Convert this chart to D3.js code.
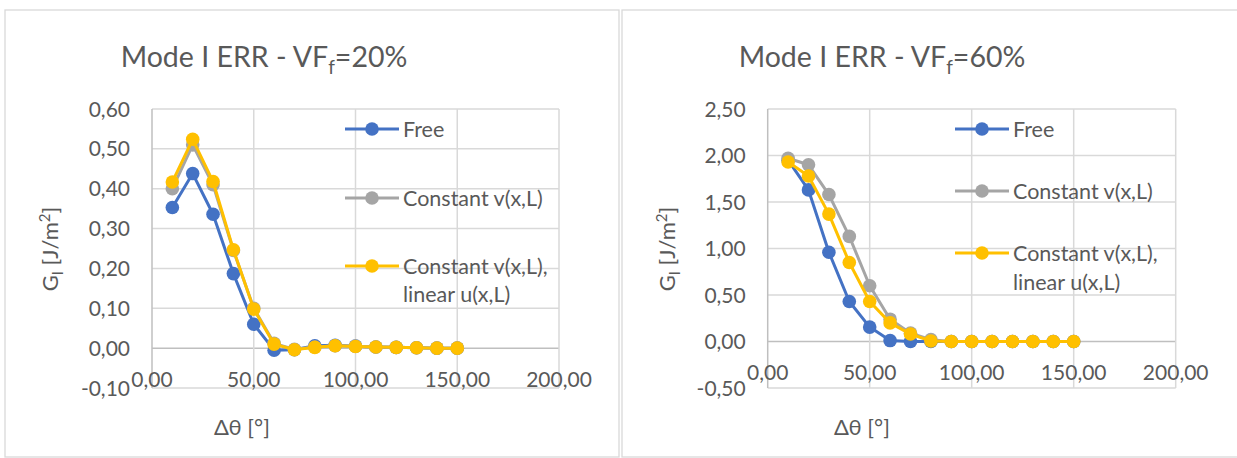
<!DOCTYPE html>
<html><head><meta charset="utf-8">
<script src="https://cdn.jsdelivr.net/npm/d3@7"></script>
<style>
html,body{margin:0;padding:0;background:#fff;}
text{font-family:Lato, "Open Sans", sans-serif; fill:#595959;}
</style></head>
<body><svg id="c" width="1237" height="458"></svg>
<script>
const xs = [10,20,30,40,50,60,70,80,90,100,110,120,130,140,150];
const seriesNames = ["Free","Constant v(x,L)","Constant v(x,L), linear u(x,L)"];
const seriesColors = ["#4472C4","#A5A5A5","#FFC000"];
// VF_f = 20%
const free20  = [0.353,0.438,0.336,0.187,0.060,-0.005,-0.004,0.006,0.007,0.005,0.003,0.002,0.001,0.000,0.000];
const cv20    = [0.400,0.510,0.410,0.245,0.100,0.012,-0.003,0.003,0.006,0.005,0.003,0.002,0.001,0.000,0.000];
const cvlu20  = [0.417,0.524,0.418,0.247,0.098,0.010,-0.004,0.002,0.006,0.004,0.003,0.002,0.001,0.000,0.000];
// VF_f = 60%
const free60  = [1.95,1.63,0.96,0.43,0.155,0.010,0.000,0.000,0.000,0.000,0.000,0.000,0.000,0.000,0.000];
const cv60    = [1.97,1.90,1.58,1.13,0.600,0.240,0.090,0.020,0.000,0.000,0.000,0.000,0.000,0.000,0.000];
const cvlu60  = [1.93,1.78,1.37,0.85,0.430,0.200,0.080,0.005,0.000,0.000,0.000,0.000,0.000,0.000,0.000];
const xTicks = [0,50,100,150,200];
const yTicks20 = [-0.1,0,0.1,0.2,0.3,0.4,0.5,0.6];
const yTicks60 = [-0.5,0,0.5,1.0,1.5,2.0,2.5];

const svg = d3.select("#c");
const fmt = v => d3.format(".2f")(v).replace(".",",").replace("−","-");

function chart(cfg){
  const g = svg.append("g");
  g.append("rect").attr("x",cfg.fx).attr("y",10).attr("width",cfg.fw).attr("height",447)
    .attr("fill","#fff").attr("stroke","#d9d9d9").attr("stroke-width",1.3);
  const x = d3.scaleLinear().domain([0,200]).range([cfg.px0,cfg.px1]);
  const y = d3.scaleLinear().domain(d3.extent(cfg.yTicks)).range([388,109]);
  g.selectAll(".hg").data(cfg.yTicks).join("line")
    .attr("x1",cfg.px0).attr("x2",cfg.px1).attr("y1",d=>y(d)).attr("y2",d=>y(d))
    .attr("stroke",d=>d===0?"#bfbfbf":"#d9d9d9").attr("stroke-width",1.5);
  g.selectAll(".vg").data(xTicks).join("line")
    .attr("x1",d=>x(d)).attr("x2",d=>x(d)).attr("y1",y.range()[1]).attr("y2",y.range()[0])
    .attr("stroke",d=>d===0?"#bfbfbf":"#d9d9d9").attr("stroke-width",1.5);
  g.selectAll(".yl").data(cfg.yTicks).join("text")
    .attr("x",cfg.px0-22).attr("y",d=>y(d)).attr("dy","0.36em").attr("text-anchor","end")
    .style("font-size","21px").text(d=>fmt(d));
  g.selectAll(".xl").data(xTicks).join("text")
    .attr("x",d=>x(d)).attr("y",y(0)+38.5).attr("text-anchor","middle")
    .style("font-size","21px").text(d=>fmt(d));
  const line = d3.line().x((d,i)=>x(xs[i])).y(d=>y(d));
  cfg.series.forEach((s,k)=>{
    g.append("path").attr("d",line(s)).attr("fill","none")
      .attr("stroke",seriesColors[k]).attr("stroke-width",3).attr("stroke-linejoin","round");
    g.selectAll(".m"+k).data(s).join("circle")
      .attr("cx",(d,i)=>x(xs[i])).attr("cy",d=>y(d)).attr("r",6.8)
      .attr("fill",seriesColors[k]);
  });
  const t = g.append("text").attr("x",cfg.tx).attr("y",67).attr("text-anchor","middle")
    .style("font-size","28.5px");
  t.append("tspan").text("Mode I ERR - VF");
  t.append("tspan").text("f").style("font-size","19px").attr("dy",7);
  t.append("tspan").text(cfg.pct).attr("dy",-7);
  g.append("text").attr("x",cfg.axtx).attr("y",435).attr("text-anchor","middle")
    .style("font-size","22px").text("Δθ [°]");
  const yt = g.append("text").attr("transform",`translate(${cfg.aytx},249) rotate(-90)`)
    .attr("text-anchor","middle").style("font-size","22px");
  yt.append("tspan").text("G");
  yt.append("tspan").text("I").style("font-size","15px").attr("dy",5);
  yt.append("tspan").text(" [J/m").attr("dy",-5);
  yt.append("tspan").text("2").style("font-size","15px").attr("dy",-8);
  yt.append("tspan").text("]").attr("dy",8);
  cfg.legY.forEach((ly,k)=>{
    g.append("line").attr("x1",cfg.lx).attr("x2",cfg.lx+54).attr("y1",ly).attr("y2",ly)
      .attr("stroke",seriesColors[k]).attr("stroke-width",3);
    g.append("circle").attr("cx",cfg.lx+27).attr("cy",ly).attr("r",6.8).attr("fill",seriesColors[k]);
  });
  const lt = [[seriesNames[0]],[seriesNames[1]],["Constant v(x,L),","linear u(x,L)"]];
  lt.forEach((lines,k)=>{
    lines.forEach((s,j)=>{
      g.append("text").attr("x",cfg.lx+58).attr("y",cfg.legY[k]+j*cfg.lgap).attr("dy","0.36em")
        .style("font-size","21.5px").text(s);
    });
  });
}

chart({fx:5,fw:614,px0:152,px1:559,yTicks:yTicks20,series:[free20,cv20,cvlu20],
  tx:264,pct:"=20%",axtx:242,aytx:58,lx:345,legY:[129,198,266],lgap:28});
chart({fx:622,fw:620,px0:767.7,px1:1175.7,yTicks:yTicks60,series:[free60,cv60,cvlu60],
  tx:882,pct:"=60%",axtx:862,aytx:675,lx:955,legY:[129,191,253],lgap:29});
</script></body></html>
